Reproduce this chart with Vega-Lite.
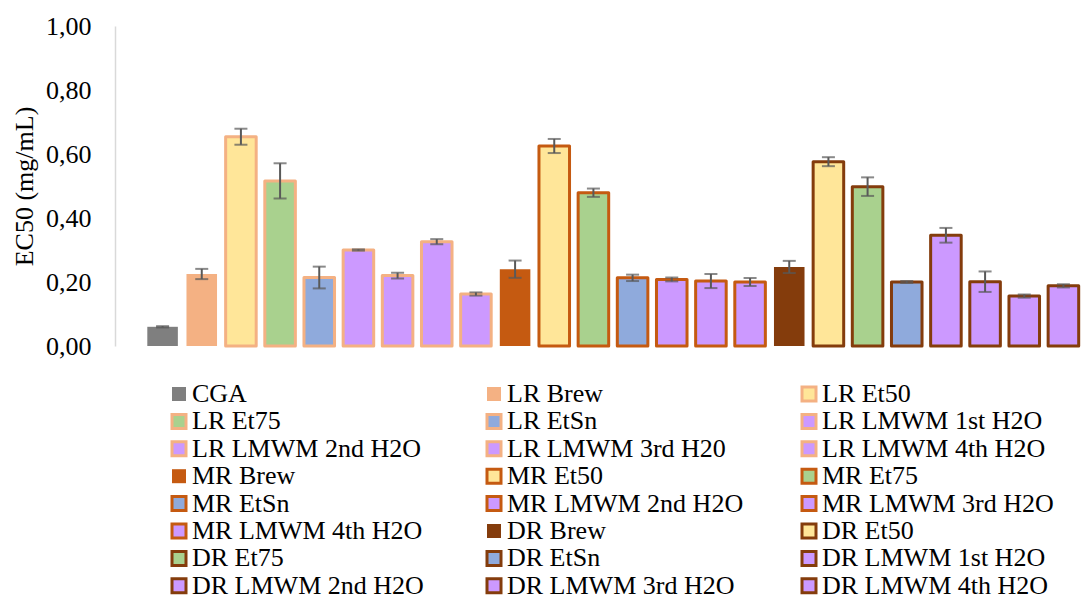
{
  "$schema": "https://vega.github.io/schema/vega-lite/v6.json",
  "autosize": "none",
  "width": 940,
  "height": 320,
  "padding": {"left": 143, "top": 26, "right": 1, "bottom": 255},
  "background": "white",
  "config": {
    "view": {"stroke": null},
    "font": "Liberation Serif, Times New Roman, serif",
    "legend": {
      "orient": "none",
      "direction": "horizontal",
      "legendX": 23,
      "legendY": 355,
      "columns": 3,
      "gridAlign": "all",
      "columnPadding": 52,
      "rowPadding": 1.4,
      "labelFont": "Liberation Serif, Times New Roman, serif",
      "labelFontSize": 26,
      "labelColor": "#000000",
      "labelLimit": 400,
      "labelOffset": 0,
      "symbolType": "square",
      "symbolSize": 196,
      "symbolStrokeWidth": 3,
      "symbolOpacity": 1
    }
  },
  "data": {
    "values": [
      {"label": "CGA", "value": 0.06, "err": 0.002},
      {"label": "LR Brew", "value": 0.225, "err": 0.016},
      {"label": "LR Et50", "value": 0.654, "err": 0.025},
      {"label": "LR Et75", "value": 0.516, "err": 0.055},
      {"label": "LR EtSn", "value": 0.214, "err": 0.034},
      {"label": "LR LMWM 1st H2O", "value": 0.30, "err": 0.002},
      {"label": "LR LMWM 2nd H2O", "value": 0.22, "err": 0.009},
      {"label": "LR LMWM 3rd H20", "value": 0.326, "err": 0.008},
      {"label": "LR LMWM 4th H2O", "value": 0.1625, "err": 0.005},
      {"label": "MR Brew", "value": 0.24, "err": 0.027},
      {"label": "MR Et50", "value": 0.625, "err": 0.022},
      {"label": "MR Et75", "value": 0.479, "err": 0.013},
      {"label": "MR EtSn", "value": 0.213, "err": 0.010},
      {"label": "MR LMWM 2nd H2O", "value": 0.208, "err": 0.006},
      {"label": "MR LMWM 3rd H2O", "value": 0.203, "err": 0.022},
      {"label": "MR LMWM 4th H2O", "value": 0.20, "err": 0.0125},
      {"label": "DR Brew", "value": 0.247, "err": 0.019},
      {"label": "DR Et50", "value": 0.576, "err": 0.014},
      {"label": "DR Et75", "value": 0.498, "err": 0.029},
      {"label": "DR EtSn", "value": 0.20, "err": 0.003},
      {"label": "DR LMWM 1st H2O", "value": 0.346, "err": 0.023},
      {"label": "DR LMWM 2nd H2O", "value": 0.201, "err": 0.032},
      {"label": "DR LMWM 3rd H2O", "value": 0.156, "err": 0.005},
      {"label": "DR LMWM 4th H2O", "value": 0.188, "err": 0.005}
    ]
  },
  "encoding": {
    "x": {
      "field": "label",
      "type": "nominal",
      "sort": null,
      "axis": null,
      "scale": {"paddingInner": 0.22, "paddingOuter": 0.11}
    }
  },
  "layer": [
    {
      "mark": {"type": "bar", "strokeWidth": 3, "strokeJoin": "round"},
      "encoding": {
        "y": {
          "field": "value",
          "type": "quantitative",
          "title": "EC50 (mg/mL)",
          "scale": {"domain": [0, 1]},
          "axis": {
            "title": "EC50 (mg/mL)",
            "titleFont": "Liberation Serif, Times New Roman, serif",
            "titleFontSize": 26,
            "titleFontWeight": "normal",
            "titleColor": "#000000",
            "titlePadding": 8,
            "values": [0, 0.2, 0.4, 0.6, 0.8, 1.0],
            "labelExpr": "replace(format(datum.value, '.2f'), '.', ',')",
            "labelFont": "Liberation Serif, Times New Roman, serif",
            "labelFontSize": 26,
            "labelColor": "#000000",
            "labelPadding": 24,
            "ticks": false,
            "tickSize": 0,
            "grid": false,
            "offset": 28,
            "domainColor": "#d9d9d9",
            "domainWidth": 1.5
          }
        },
        "fill": {
          "field": "label",
          "type": "nominal",
          "title": null,
          "scale": {
            "domain": ["CGA", "LR Brew", "LR Et50", "LR Et75", "LR EtSn", "LR LMWM 1st H2O", "LR LMWM 2nd H2O", "LR LMWM 3rd H20", "LR LMWM 4th H2O", "MR Brew", "MR Et50", "MR Et75", "MR EtSn", "MR LMWM 2nd H2O", "MR LMWM 3rd H2O", "MR LMWM 4th H2O", "DR Brew", "DR Et50", "DR Et75", "DR EtSn", "DR LMWM 1st H2O", "DR LMWM 2nd H2O", "DR LMWM 3rd H2O", "DR LMWM 4th H2O"],
            "range": ["#7f7f7f", "#f4b183", "#ffe699", "#a9d18e", "#8faadc", "#cc99ff", "#cc99ff", "#cc99ff", "#cc99ff", "#c55a11", "#ffe699", "#a9d18e", "#8faadc", "#cc99ff", "#cc99ff", "#cc99ff", "#843c0c", "#ffe699", "#a9d18e", "#8faadc", "#cc99ff", "#cc99ff", "#cc99ff", "#cc99ff"]
          }
        },
        "stroke": {
          "field": "label",
          "type": "nominal",
          "title": null,
          "scale": {
            "domain": ["CGA", "LR Brew", "LR Et50", "LR Et75", "LR EtSn", "LR LMWM 1st H2O", "LR LMWM 2nd H2O", "LR LMWM 3rd H20", "LR LMWM 4th H2O", "MR Brew", "MR Et50", "MR Et75", "MR EtSn", "MR LMWM 2nd H2O", "MR LMWM 3rd H2O", "MR LMWM 4th H2O", "DR Brew", "DR Et50", "DR Et75", "DR EtSn", "DR LMWM 1st H2O", "DR LMWM 2nd H2O", "DR LMWM 3rd H2O", "DR LMWM 4th H2O"],
            "range": ["transparent", "transparent", "#f4b183", "#f4b183", "#f4b183", "#f4b183", "#f4b183", "#f4b183", "#f4b183", "transparent", "#c55a11", "#c55a11", "#c55a11", "#c55a11", "#c55a11", "#c55a11", "transparent", "#843c0c", "#843c0c", "#843c0c", "#843c0c", "#843c0c", "#843c0c", "#843c0c"]
          }
        }
      }
    },
    {
      "mark": {
        "type": "errorbar",
        "ticks": {"size": 13, "thickness": 2, "color": "#595959"},
        "rule": {"strokeWidth": 2, "color": "#595959"}
      },
      "encoding": {
        "y": {"field": "value", "type": "quantitative", "title": "EC50 (mg/mL)"},
        "yError": {"field": "err"}
      }
    }
  ]
}
